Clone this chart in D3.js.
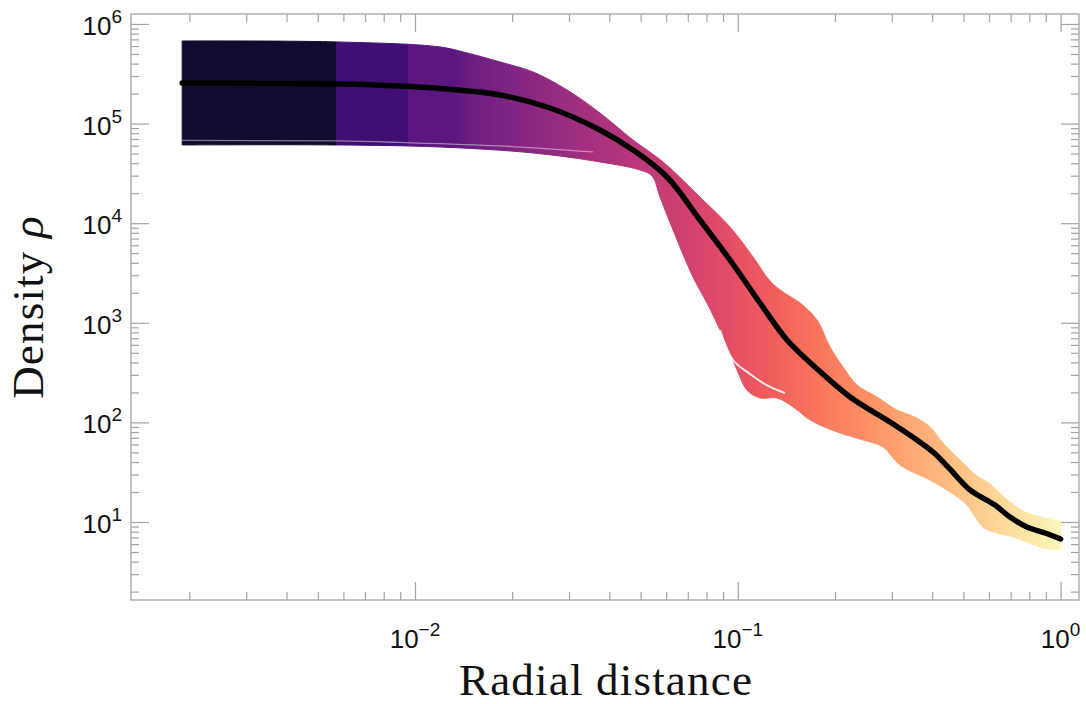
<!DOCTYPE html>
<html>
<head>
<meta charset="utf-8">
<script src="https://cdnjs.cloudflare.com/ajax/libs/d3/7.8.5/d3.min.js"></script>
<style>
  body { margin: 0; background: #fff; }
  text { fill: #111; }
</style>
</head>
<body>
<script>
// set the dimensions and margins of the graph
var margin = {top: 14, right: 7, bottom: 104, left: 131},
    width = 1086 - margin.left - margin.right,
    height = 704 - margin.top - margin.bottom;

// ensemble mean profile (black curve)
var meanR   = [0.0019, 0.00573, 0.00899, 0.01195, 0.01834, 0.02619, 0.03741, 0.04735, 0.06035, 0.07634,
               0.09458, 0.1172, 0.1421, 0.1734, 0.2227, 0.2961, 0.3590, 0.4025, 0.4543, 0.5239,
               0.6262, 0.6970, 0.7870, 0.8947, 1.0];
var meanRho = [2.556e5, 2.50e5, 2.385e5, 2.251e5, 1.937e5, 1.434e5, 8.625e4, 5.43e4, 2.91e4, 1.077e4,
               4270, 1580, 672, 360, 180, 101, 66.6, 50.4, 34.0, 21.0,
               14.8, 11.2, 8.91, 7.75, 6.75];

// upper edge of the ensemble
var upperR   = [0.0019, 0.00573, 0.01195, 0.01449, 0.01834, 0.02320, 0.02958, 0.03741, 0.04735, 0.05866,
                0.07800, 0.09458, 0.1115, 0.1258, 0.1380, 0.1559, 0.1759, 0.1930, 0.2118, 0.2340,
                0.2699, 0.3112, 0.3539, 0.3939, 0.4321, 0.4879, 0.5508, 0.6043, 0.6726, 0.7757,
                0.8947, 1.0];
var upperRho = [6.75e5, 6.60e5, 5.88e5, 5.12e5, 4.155e5, 3.30e5, 2.175e5, 1.278e5, 6.84e4, 4.12e4,
                1.71e4, 9160, 4578, 2628, 2038, 1580, 1067, 571, 360, 237,
                180, 133, 113, 89.9, 62.1, 41.9, 28.9, 24.1, 17.4, 12.6,
                11.0, 10.2];

// lower edge of the ensemble
var lowerR   = [0.0019, 0.00573, 0.01195, 0.02320, 0.03741, 0.04977, 0.05423, 0.05741, 0.06300, 0.07264,
                0.08025, 0.08808, 0.09944, 0.1068, 0.1172, 0.1322, 0.1483, 0.1674, 0.1889, 0.2118,
                0.2443, 0.2818, 0.3180, 0.3939, 0.4543, 0.5129, 0.5748, 0.6353, 0.6970, 0.7870,
                0.8821, 1.0];
var lowerRho = [6.10e4, 6.10e4, 5.82e4, 5.07e4, 4.12e4, 3.42e4, 2.98e4, 1.833e4, 8546, 2883,
                1580, 847, 336, 211, 176, 176, 143, 106, 87.8, 76.5,
                66.6, 56.6, 37.3, 26.4, 20.0, 14.8, 8.91, 7.75, 7.24, 6.30,
                5.48, 5.24];

// thin gaps between individual members
var gapR     = [0.0019, 0.00573, 0.00899, 0.01834, 0.03558];
var gapRho   = [6.77e4, 6.69e4, 6.46e4, 5.96e4, 5.19e4];
var tendrilR   = [0.08808, 0.09663, 0.1091, 0.1241, 0.1400];
var tendrilRho = [847, 423, 306, 232, 197];

// tick labels
var xMajor = [0.01, 0.1, 1];
var xExp   = ["\u22122", "\u22121", "0"];
var yMajor = [10, 100, 1000, 1e4, 1e5, 1e6];
var yExp   = ["1", "2", "3", "4", "5", "6"];

var svg = d3.select("body").append("svg")
    .attr("width", width + margin.left + margin.right)
    .attr("height", height + margin.top + margin.bottom)
  .append("g")
    .attr("transform", "translate(" + margin.left + "," + margin.top + ")");

var x = d3.scaleLog()
    .domain([Math.pow(10, -2.8798), Math.pow(10, 0.057)])
    .range([0, width]);

var y = d3.scaleLog()
    .domain([Math.pow(10, 0.217), Math.pow(10, 6.1)])
    .range([height, 0]);

function isMajor(v) {
  var l = Math.log10(v);
  return Math.abs(l - Math.round(l)) < 1e-9;
}

// colour gradient along radius (first wide samples show as steps)
var r0 = meanR[0], r1 = meanR[meanR.length - 1];
var x0 = x(r0), x1 = x(r1);
var grad = svg.append("defs").append("linearGradient")
    .attr("id", "magma")
    .attr("gradientUnits", "userSpaceOnUse")
    .attr("x1", x0).attr("x2", x1).attr("y1", 0).attr("y2", 0);
var edges = d3.range(r0, r1, 0.0038).concat([r1]);
function tcol(r) {
  return d3.interpolateMagma(0.985 * (Math.log(r) - Math.log(r0)) / (Math.log(r1) - Math.log(r0)));
}
function off(r) { return (x(r) - x0) / (x1 - x0); }
for (var i = 0; i < edges.length - 1; i++) {
  var a = edges[i], b = edges[i + 1];
  var c = tcol(Math.sqrt(a * b));
  if (i < 3) {
    grad.append("stop").attr("offset", off(a)).attr("stop-color", c);
    grad.append("stop").attr("offset", off(b)).attr("stop-color", c);
  } else {
    grad.append("stop").attr("offset", off(Math.sqrt(a * b))).attr("stop-color", c);
  }
}

var line = d3.line()
    .x(function(d) { return x(d[0]); })
    .y(function(d) { return y(d[1]); })
    .curve(d3.curveCatmullRom.alpha(0.5));

var upper = d3.zip(upperR, upperRho);
var lower = d3.zip(lowerR, lowerRho).reverse();
var bandPath = line(upper) + "L" + line(lower).slice(1) + "Z";

svg.append("path")
    .attr("d", bandPath)
    .attr("fill", "url(#magma)")
    .attr("stroke", "url(#magma)")
    .attr("stroke-width", 1);

svg.append("path")
    .attr("d", line(d3.zip(gapR, gapRho)))
    .attr("fill", "none")
    .attr("stroke", "#fff")
    .attr("stroke-opacity", 0.45)
    .attr("stroke-width", 1.3);

svg.append("path")
    .attr("d", line(d3.zip(tendrilR, tendrilRho)))
    .attr("fill", "none")
    .attr("stroke", "#fff")
    .attr("stroke-opacity", 0.85)
    .attr("stroke-width", 2);

// mean curve
svg.append("path")
    .attr("d", line(d3.zip(meanR, meanRho)))
    .attr("fill", "none")
    .attr("stroke", "#000")
    .attr("stroke-width", 5.5)
    .attr("stroke-linecap", "round")
    .attr("stroke-linejoin", "round");

// frame
svg.append("rect")
    .attr("width", width).attr("height", height)
    .attr("fill", "none")
    .attr("stroke", "#a3a3a3")
    .attr("stroke-width", 1.3);

// ticks on all four sides, pointing inward
var xMinor = x.ticks().filter(function(v) { return !isMajor(v); });
var yMinor = y.ticks().filter(function(v) { return !isMajor(v); });
var xMaj = x.ticks().filter(isMajor);
var yMaj = y.ticks().filter(isMajor);

function ticks(axis, vals, size, tr) {
  svg.append("g")
      .attr("transform", tr)
      .attr("color", "#a3a3a3")
      .call(axis.tickValues(vals).tickSize(size).tickFormat(""))
      .call(function(g) { g.select(".domain").remove(); })
      .selectAll("line").attr("stroke-width", 1.2);
}
ticks(d3.axisBottom(x), xMinor, -8, "translate(0," + height + ")");
ticks(d3.axisBottom(x), xMaj, -18, "translate(0," + height + ")");
ticks(d3.axisTop(x), xMinor, -8, "translate(0,0)");
ticks(d3.axisTop(x), xMaj, -18, "translate(0,0)");
ticks(d3.axisLeft(y), yMinor, -8, "translate(0,0)");
ticks(d3.axisLeft(y), yMaj, -18, "translate(0,0)");
ticks(d3.axisRight(y), yMinor, -8, "translate(" + width + ",0)");
ticks(d3.axisRight(y), yMaj, -18, "translate(" + width + ",0)");

// tick labels
var labFont = "'Liberation Sans', Arial, sans-serif";

xMajor.forEach(function(v, i) {
  var t = svg.append("text")
      .attr("x", x(v)).attr("y", height + 48)
      .attr("text-anchor", "middle")
      .attr("font-family", labFont).attr("font-size", 26);
  t.append("tspan").text("10");
  t.append("tspan").attr("dy", -12).attr("font-size", 19).text(xExp[i]);
});

yMajor.forEach(function(v, i) {
  var t = svg.append("text")
      .attr("x", -9).attr("y", y(v) + 11)
      .attr("text-anchor", "end")
      .attr("font-family", labFont).attr("font-size", 26);
  t.append("tspan").text("10");
  t.append("tspan").attr("dy", -12).attr("font-size", 19).text(yExp[i]);
});

// axis titles
svg.append("text")
    .attr("x", 475).attr("y", 681)
    .attr("text-anchor", "middle")
    .attr("font-family", "'Liberation Serif', 'Times New Roman', serif")
    .attr("font-size", 45)
    .attr("letter-spacing", 1.2)
    .text("Radial distance");

var yt = svg.append("text")
    .attr("transform", "translate(" + (43 - margin.left) + "," + (307 - margin.top) + ") rotate(-90)")
    .attr("text-anchor", "middle")
    .attr("font-family", "'Liberation Serif', 'Times New Roman', serif")
    .attr("font-size", 45)
    .attr("letter-spacing", 1.2);
yt.append("tspan").text("Density ");
yt.append("tspan").attr("font-style", "italic").text("\u03c1");
</script>
</body>
</html>
